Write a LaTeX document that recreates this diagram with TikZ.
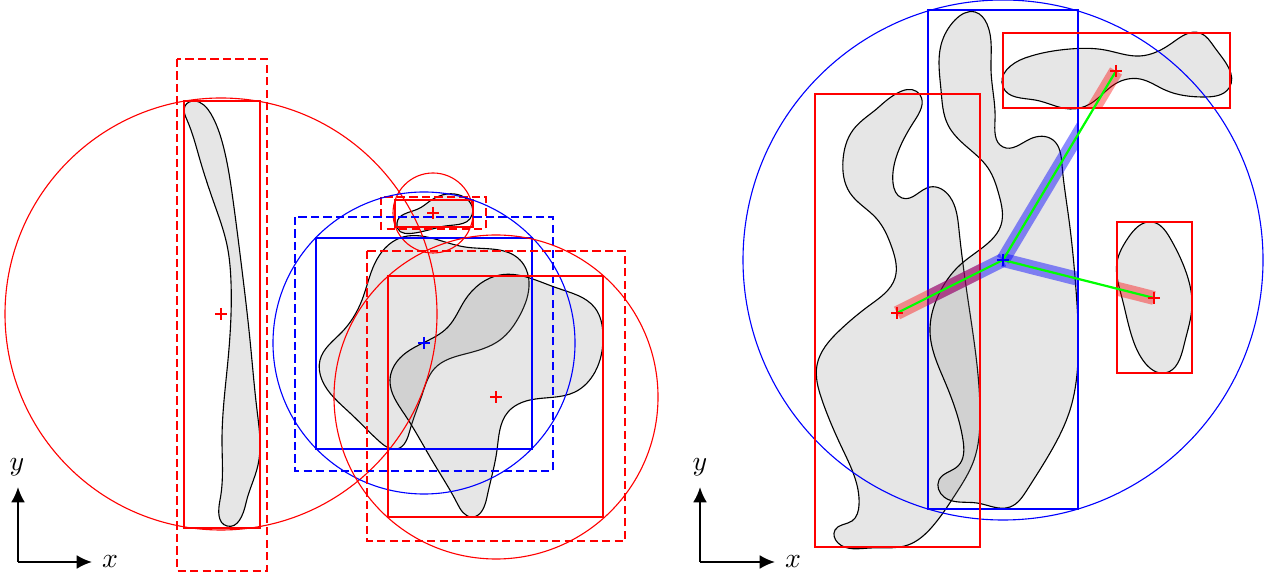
\documentclass[tikz,border=0pt]{standalone}
\usetikzlibrary{arrows.meta,calc,hobby}

\begin{document}
\begin{tikzpicture}[x=0.36pt, y=-0.36pt, >={Latex[length=5.5pt,width=5pt]},
  blob/.style={draw=black, fill=gray, fill opacity=0.2},
  bbox/.style={draw=red},
  bboxd/.style={draw=red, dash pattern=on 3pt off 1.5pt},
  bandb/.style={blue, opacity=0.45, line width=5pt},
  bandr/.style={red, opacity=0.4, line width=5pt},
  link/.style={green, thick},
  plusmark/.pic={\draw (-6,0) -- (6,0) (0,-6) -- (0,6);}]
\useasboundingbox (0,0) rectangle (1270,577);

% left: axes
\coordinate (o1) at (18,562);
\coordinate (x1) at (92,562);
\coordinate (y1) at (18,487);
\draw[->, thick] (o1) -- (x1);
\draw[->, thick] (o1) -- (y1);
\node (xl1) at (110,562) {$x$};
\node (yl1) at (17,467) {$y$};

% left: shapes
\draw[blob] plot[closed hobby] coordinates {(185,106) (194,101) (211,114) (223,145) (233,200) (242,270) (250,340) (257,410) (258,465) (246,503) (227,526) (220,500) (222,440) (228,360) (231,282) (227,245) (214,203) (200,160) (187,120)};
\draw[blob] plot[closed hobby] coordinates {(397,223) (418,209) (430,201) (472,215) (440,227)};
\draw[blob] plot[closed hobby] coordinates {(400,238) (465,247) (520,260) (529,282) (520,315) (500,340) (465,354) (435,368) (422,395) (410,430) (397,449) (380,442) (350,413) (322,380) (320,360) (342,332) (362,300) (375,263)};
\draw[blob] plot[closed hobby] coordinates {(500,275) (557,288) (595,308) (603,335) (595,372) (575,392) (530,400) (508,412) (497,450) (487,497) (472,517) (457,503) (433,462) (405,415) (390,380) (400,358) (425,342) (448,327) (465,300)};

% left: boxes and circles
\coordinate (c1) at (221,314);
\coordinate (c2) at (433,213);
\coordinate (c3) at (424,343);
\coordinate (c4) at (496,397);
\draw[bbox] (184,101) rectangle (260,528);
\draw[bboxd] (177,59) rectangle (267,571);
\draw[red] (c1) circle[radius=216];
\draw[bbox] (395,200) rectangle (473,227);
\draw[bboxd] (381,197) rectangle (486,229);
\draw[red] (c2) circle[radius=40];
\draw[blue] (316,238) rectangle (532,449);
\draw[blue, dash pattern=on 3pt off 1.5pt] (295,217) rectangle (553,471);
\draw[blue] (c3) circle[radius=151];
\draw[bbox] (388,276) rectangle (603,517);
\draw[bboxd] (367,251) rectangle (625,541);
\draw[red] (c4) circle[radius=162];
\path[red] (c1) pic {plusmark} (c2) pic {plusmark} (c4) pic {plusmark};
\path[blue] (c3) pic {plusmark};

% right: axes
\coordinate (o2) at (700,562);
\coordinate (x2) at (775,562);
\coordinate (y2) at (700,487);
\draw[->, thick] (o2) -- (x2);
\draw[->, thick] (o2) -- (y2);
\node (xl2) at (793,562) {$x$};
\node (yl2) at (700,467) {$y$};

% right: shapes
\draw[blob] plot[closed hobby] coordinates {(880,106) (920,95) (915,120) (898,152) (893,183) (902,198) (930,187) (950,197) (959,230) (968,300) (978,375) (980,415) (974,460) (955,495) (932,527) (908,545) (870,548) (838,543) (835,530) (852,521) (859,505) (842,448) (822,400) (817,365) (840,330) (870,305) (895,278) (892,248) (876,218) (850,193) (843,160) (853,130)};
\draw[blob] plot[closed hobby] coordinates {(975,12) (987,24) (991,70) (995,120) (1003,147) (1030,139) (1053,140) (1062,165) (1069,220) (1076,290) (1078,360) (1070,410) (1050,453) (1027,490) (1010,507) (977,503) (944,497) (939,480) (958,466) (963,440) (945,382) (930,332) (938,296) (960,265) (987,244) (1001,225) (999,195) (988,168) (967,147) (948,125) (941,90) (941,45) (955,20)};
\draw[blob] plot[closed hobby] coordinates {(1003,87) (1025,58) (1070,49) (1105,50) (1140,56) (1172,43) (1200,33) (1215,48) (1229,88) (1205,97) (1165,90) (1140,79) (1115,84) (1090,104) (1070,109) (1035,100)};
\draw[blob] plot[closed hobby] coordinates {(1152,222) (1170,238) (1186,272) (1192,305) (1184,345) (1165,373) (1145,363) (1133,340) (1122,298) (1117,262) (1128,238)};

% right: boxes and circle
\coordinate (cE) at (1003,260);
\coordinate (pD) at (897,313);
\coordinate (pF) at (1116,71);
\coordinate (pG) at (1154,298);
\draw[blue] (928,10) rectangle (1078,509);
\draw[blue] (cE) circle[radius=260];
\draw[bbox] (815,94) rectangle (980,547);
\draw[bbox] (1003,33) rectangle (1230,108);
\draw[bbox] (1117,222) rectangle (1192,373);

% right: bands
\begin{scope}
\clip (928,10) rectangle (1078,509);
\draw[bandb] (cE) -- (pD);
\draw[bandb] (cE) -- (pF);
\draw[bandb] (cE) -- (pG);
\end{scope}
\begin{scope}
\clip (815,94) rectangle (980,547);
\draw[bandr] (pD) -- (cE);
\end{scope}
\begin{scope}
\clip (1003,33) rectangle (1230,108);
\draw[bandr] (pF) -- (cE);
\end{scope}
\begin{scope}
\clip (1117,222) rectangle (1192,373);
\draw[bandr] (pG) -- (cE);
\end{scope}
\draw[link] (cE) -- (pD);
\draw[link] (cE) -- (pF);
\draw[link] (cE) -- (pG);
\path[red] (pD) pic {plusmark} (pF) pic {plusmark} (pG) pic {plusmark};
\path[blue] (cE) pic {plusmark};
\end{tikzpicture}
\end{document}
